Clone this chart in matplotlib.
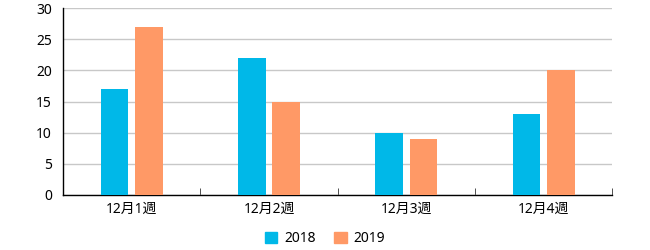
import numpy as np
import matplotlib.pyplot as plt
from matplotlib.patches import Patch

plt.rcParams['font.family'] = ['Noto Sans', 'Noto Sans CJK JP', 'DejaVu Sans']

weeks = ['12月1週', '12月2週', '12月3週', '12月4週']
v2018 = [17, 22, 10, 13]
v2019 = [27, 15, 9, 20]

c2018 = '#00B8E8'
c2019 = '#FF9966'

fig = plt.figure(figsize=(6.5, 2.5), dpi=100)
ax = fig.add_axes([0.097, 0.22, 0.845, 0.748])

x = np.arange(len(weeks))
w = 0.2
ax.bar(x - 0.125, v2018, w, color=c2018, zorder=3)
ax.bar(x + 0.125, v2019, w, color=c2019, zorder=3)

ax.set_xlim(-0.5, len(weeks) - 0.5)
ax.set_ylim(0, 30)
ax.set_yticks(range(0, 31, 5))
ax.yaxis.grid(True, color='#c8c8c8', linewidth=1, zorder=0)
ax.tick_params(axis='y', length=0, labelsize=10, pad=8)

ax.set_xticks(x)
ax.set_xticklabels(weeks, fontsize=10)
ax.set_xticks(np.arange(-0.5, len(weeks)), minor=True)
ax.tick_params(axis='x', which='major', length=0, pad=5)
ax.tick_params(axis='x', which='minor', length=5, direction='in', color='#333333')

for s in ['top', 'right']:
    ax.spines[s].set_visible(False)
for s in ['left', 'bottom']:
    ax.spines[s].set_color('black')
    ax.spines[s].set_linewidth(1)

handles = [Patch(color=c2018, label='2018'), Patch(color=c2019, label='2019')]
fig.legend(handles=handles, loc='lower center', bbox_to_anchor=(0.5, -0.035), ncol=2,
           frameon=False, fontsize=10, handlelength=0.9, handleheight=0.9,
           handletextpad=0.5, columnspacing=1.3)

fig.savefig('out.png')
